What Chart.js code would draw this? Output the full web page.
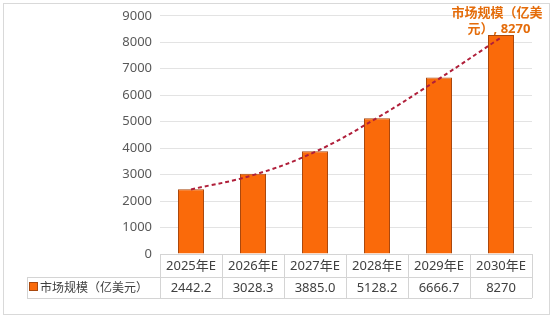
<!DOCTYPE html>
<html>
<head>
<meta charset="utf-8">
<script src="https://cdn.jsdelivr.net/npm/chart.js@4/dist/chart.umd.min.js"></script>
<style>
  body { margin: 0; background: #fff; }
  #wrap { width: 554px; height: 319px; }
</style>
</head>
<body>
<div id="wrap"><canvas id="c" width="554" height="319"></canvas></div>
<script>
// chart data
const years = ['2025年E', '2026年E', '2027年E', '2028年E', '2029年E', '2030年E'];
const marketSize = [2442.2, 3028.3, 3885.0, 5128.2, 6666.7, 8270];
const tableText = ['2442.2', '3028.3', '3885.0', '5128.2', '6666.7', '8270'];
// dashed trend line
const trendValues = [2440, 2980, 3860, 5140, 6620, 8180];
const seriesName = '市场规模（亿美元）';

const FONT = '"Noto Sans", "Noto Sans CJK SC", sans-serif';
const ORANGE = '#fa6a0a';
const ORANGE_EDGE = '#a9480e';
const LINE = '#d4d4d4';

// draws the data table under the axis + the label on the last bar
const tablePlugin = {
  id: 'dataTable',
  afterDraw(chart) {
    const ctx = chart.ctx;
    const x = chart.scales.x;
    const y = chart.scales.y;
    const area = chart.chartArea;
    const colW = x.width / years.length;
    const top = y.getPixelForValue(0);
    const row1 = top + 23;
    const row2 = row1 + 21;
    const leftEdge = 27;

    ctx.save();
    ctx.strokeStyle = LINE;
    ctx.lineWidth = 1;
    ctx.beginPath();
    ctx.moveTo(area.left, top + 0.5); ctx.lineTo(area.right, top + 0.5);
    ctx.moveTo(leftEdge, row1 + 0.5); ctx.lineTo(area.right, row1 + 0.5);
    ctx.moveTo(leftEdge, row2 + 0.5); ctx.lineTo(area.right, row2 + 0.5);
    ctx.moveTo(leftEdge + 0.5, row1); ctx.lineTo(leftEdge + 0.5, row2);
    for (let i = 0; i <= years.length; i++) {
      const xx = Math.round(area.left + i * colW) + 0.5;
      ctx.moveTo(xx, top); ctx.lineTo(xx, row2);
    }
    ctx.stroke();

    ctx.fillStyle = '#404040';
    ctx.font = '13px ' + FONT;
    ctx.textAlign = 'center';
    ctx.textBaseline = 'middle';
    years.forEach((yr, i) => {
      const cx = x.getPixelForValue(i);
      ctx.fillText(yr, cx, (top + row1) / 2 + 1);
      ctx.fillText(tableText[i], cx, (row1 + row2) / 2 + 1);
    });

    // legend key in the table
    ctx.fillStyle = ORANGE;
    ctx.strokeStyle = ORANGE_EDGE;
    ctx.fillRect(29.5, row1 + 5.5, 8, 8);
    ctx.strokeRect(29.5, row1 + 5.5, 8, 8);
    ctx.fillStyle = '#404040';
    ctx.textAlign = 'left';
    ctx.font = '12px ' + FONT;
    ctx.fillText(seriesName, 40, (row1 + row2) / 2 + 1);

    // label above last bar
    const last = years.length - 1;
    const lx = x.getPixelForValue(last) - 4;
    const ly = y.getPixelForValue(marketSize[last]);
    ctx.fillStyle = '#e46c0a';
    ctx.font = 'bold 13px ' + FONT;
    ctx.textAlign = 'center';
    ctx.fillText('市场规模（亿美', lx, ly - 22);
    ctx.fillText('元）, 8270', lx + 2, ly - 6);

    // outer frame
    ctx.strokeStyle = '#d9d9d9';
    ctx.strokeRect(3.5, 3.5, 546, 311);
    ctx.restore();
  }
};

new Chart(document.getElementById('c'), {
  data: {
    labels: years,
    datasets: [
      {
        type: 'line',
        label: 'trend',
        data: trendValues,
        borderColor: '#b01f3a',
        borderWidth: 2,
        borderDash: [4, 3],
        pointRadius: 0,
        tension: 0.4,
        fill: false,
        order: 0
      },
      {
        type: 'bar',
        label: seriesName,
        data: marketSize,
        backgroundColor: ORANGE,
        borderColor: ORANGE_EDGE,
        borderWidth: 1,
        categoryPercentage: 1,
        barPercentage: 0.42,
        order: 1
      }
    ]
  },
  options: {
    responsive: false,
    animation: false,
    layout: { padding: { top: 15, right: 22, bottom: 65, left: 0 } },
    plugins: { legend: { display: false }, tooltip: { enabled: false } },
    scales: {
      x: { display: false },
      y: {
        min: 0,
        max: 9000,
        ticks: {
          stepSize: 1000,
          color: '#595959',
          font: { family: FONT, size: 13 },
          padding: 8,
          callback: v => String(v)
        },
        grid: { color: '#e3e3e3', drawTicks: false },
        border: { display: false },
        afterFit(scale) { scale.width = 160; }
      }
    }
  },
  plugins: [tablePlugin]
});
</script>
</body>
</html>
